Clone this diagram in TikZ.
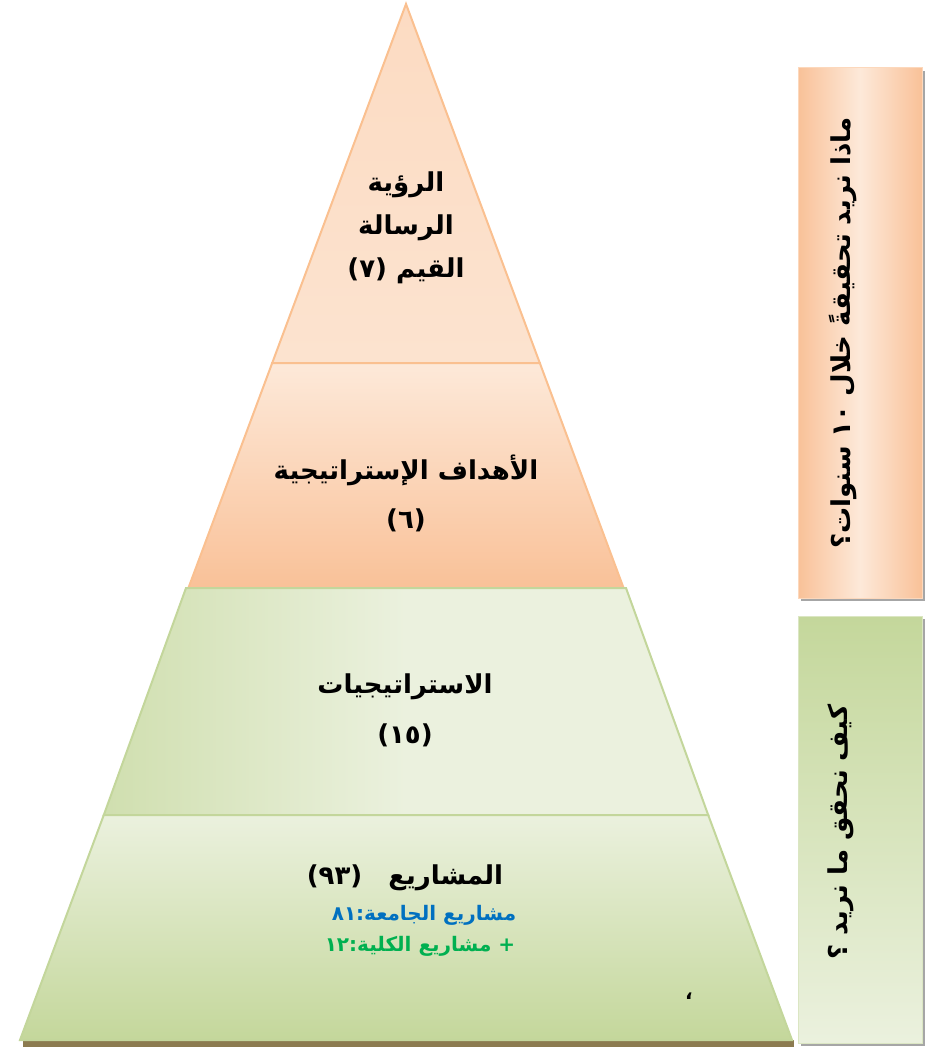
\documentclass[tikz,border=0pt]{standalone}
\usepackage{fontspec}
\newfontfamily\arabicfont[Script=Arabic]{DejaVu Sans}
\TeXXeTstate=1
\definecolor{peachline}{RGB}{250,192,144}
\definecolor{peachlight}{RGB}{253,233,217}
\definecolor{peachdark}{RGB}{249,193,152}
\definecolor{sageline}{RGB}{195,214,155}
\definecolor{sagelight}{RGB}{235,241,222}
\definecolor{sagedark}{RGB}{196,215,155}
\definecolor{baseshadow}{RGB}{140,123,80}
\definecolor{unitblue}{RGB}{0,112,192}
\definecolor{unitgreen}{RGB}{0,176,80}
\tikzset{
  levelorange/.style={draw=peachline,line width=2pt,line join=miter},
  levelgreen/.style={draw=sageline,line width=2pt,line join=miter},
  leveltext/.style={font=\arabicfont\bfseries\fontsize{26}{30}\selectfont,inner sep=0pt},
  unittext/.style={font=\arabicfont\bfseries\fontsize{20}{24}\selectfont,inner sep=0pt},
  sidetext/.style={font=\arabicfont\bfseries\fontsize{26}{30}\selectfont,inner sep=0pt,rotate=90},
}
\begin{document}
\begin{tikzpicture}[x=1pt,y=1pt,yscale=-1]
\useasboundingbox (0,0) rectangle (928,1048);

%Shape: base shadow
\fill [baseshadow] (23,1040) rectangle (794,1047) ;

%Shape: level 1 (triangle)
\shade [top color=peachlight!65!peachdark,bottom color=peachlight!85!peachdark] (406,4) -- (539.8,363) -- (272.2,363) -- cycle ;
\draw [levelorange] (406,4) -- (539.8,363) -- (272.2,363) -- cycle ;
%Shape: level 2
\shade [shading angle=20,top color=peachlight,bottom color=peachdark] (272.2,363) -- (539.8,363) -- (623.6,588) -- (188.4,588) -- cycle ;
\draw [levelorange] (272.2,363) -- (539.8,363) -- (623.6,588) -- (188.4,588) -- cycle ;
%Shape: level 3
\shade [left color=sagedark!70!sagelight,right color=sagelight,middle color=sagelight] (186,588) -- (626,588) -- (708.2,815) -- (103.8,815) -- cycle ;
\draw [levelgreen] (186,588) -- (626,588) -- (708.2,815) -- (103.8,815) -- cycle ;
%Shape: level 4
\shade [shading angle=-20,top color=sagelight,bottom color=sagedark] (103.8,815) -- (708.2,815) -- (792,1040) -- (20,1040) -- cycle ;
\draw [levelgreen] (103.8,815) -- (708.2,815) -- (792,1040) -- (20,1040) -- cycle ;

%Shape: side boxes with shadow
\fill [black!35] (801,71) rectangle (925,601) ;
\shade [left color=peachdark,right color=peachdark,middle color=peachlight] (798,68) rectangle (922,598) ;
\draw [peachlight!60!peachline,line width=1pt] (798,68) rectangle (922,598) ;
\fill [black!35] (801,619) rectangle (925,1046) ;
\shade [shading angle=-30,top color=sagedark,bottom color=sagelight] (798,616) rectangle (922,1043) ;
\draw [sagelight!60!sageline,line width=1pt] (798,616) rectangle (922,1043) ;

% Text Node
\node [leveltext] (vision) at (406,185) {\beginR الرؤية\endR};
\node [leveltext] (mission) at (406,228) {\beginR الرسالة\endR};
\node [leveltext] (values) at (406,271) {\beginR القيم (٧)\endR};
% Text Node
\node [leveltext] (goals) at (406,470) {\beginR الأهداف الإستراتيجية\endR};
\node [leveltext] (goalsnum) at (406,520) {\beginR (٦)\endR};
% Text Node
\node [leveltext] (strategies) at (405,687) {\beginR الاستراتيجيات\endR};
\node [leveltext] (strategiesnum) at (405,735) {\beginR (١٥)\endR};
% Text Node
\node [leveltext] (projects) at (405,878) {\beginR المشاريع\quad (٩٣)\endR};
\node [unittext,text=unitblue] (uniproj) at (424,915) {\beginR مشاريع الجامعة:٨١\endR};
\node [unittext,text=unitgreen] (collproj) at (420,946) {\beginR + مشاريع الكلية:١٢\endR};
\node [inner sep=0pt,font=\arabicfont\bfseries\fontsize{20}{24}\selectfont] (mark) at (689,996) {،};
% Text Node
\node [sidetext] (whatq) at (843,333) {\beginR ماذا نريد تحقيقةً خلال ١٠ سنوات؟\endR};
\node [sidetext] (howq) at (841,832) {\beginR كيف نحقق ما نريد ؟\endR};

\end{tikzpicture}
\end{document}
